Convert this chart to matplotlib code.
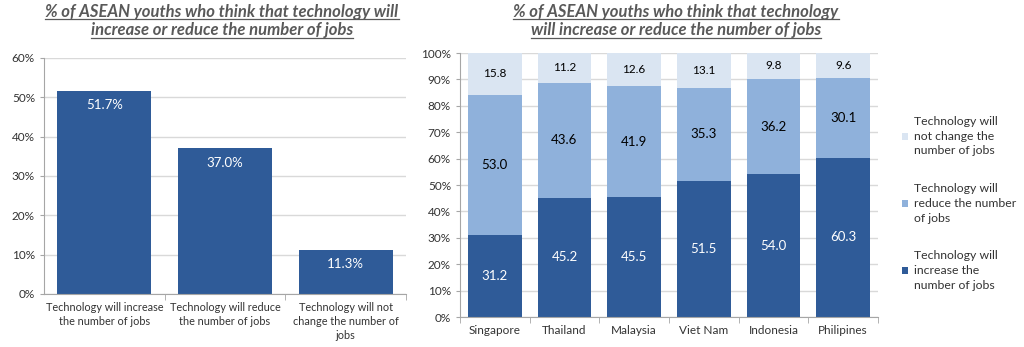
import numpy as np
import matplotlib.pyplot as plt
from matplotlib.lines import Line2D

plt.rcParams['font.family'] = ['Lato', 'DejaVu Sans']

# left chart
left_cats = ["Technology will increase\nthe number of jobs",
             "Technology will reduce\nthe number of jobs",
             "Technology will not\nchange the number of\njobs"]
left_vals = [51.7, 37.0, 11.3]

# right chart
countries = ["Singapore", "Thailand", "Malaysia", "Viet Nam", "Indonesia", "Philipines"]
increase = [31.2, 45.2, 45.5, 51.5, 54.0, 60.3]
reduce_ = [53.0, 43.6, 41.9, 35.3, 36.2, 30.1]
no_change = [15.8, 11.2, 12.6, 13.1, 9.8, 9.6]
legend_labels = ["Technology will\nnot change the\nnumber of jobs",
                 "Technology will\nreduce the number\nof jobs",
                 "Technology will\nincrease the\nnumber of jobs"]

dark = '#2F5B98'
mid = '#8FB1DB'
light = '#DAE5F2'
grid_c = '#D9D9D9'
spine_c = '#A6A6A6'
txt_c = '#333333'

fig = plt.figure(figsize=(10.24, 3.47), dpi=100)
W, H = 1024, 347

def px_axes(x0, y0, x1, y1):
    return fig.add_axes([x0 / W, 1 - y1 / H, (x1 - x0) / W, (y1 - y0) / H])

def style(ax):
    for s in ['top', 'right']:
        ax.spines[s].set_visible(False)
    ax.spines['left'].set_color(spine_c)
    ax.spines['bottom'].set_color(spine_c)
    ax.yaxis.grid(True, color=grid_c, linewidth=1)
    ax.set_axisbelow(True)
    ax.tick_params(axis='y', colors=spine_c, labelcolor=txt_c, labelsize=8.5, length=3)
    ax.tick_params(axis='x', colors=spine_c, labelcolor=txt_c, labelsize=8.5)

# ---- left
ax1 = px_axes(44, 58, 406, 294)
x = np.arange(len(left_vals))
ax1.bar(x, left_vals, width=0.78, color=dark)
for xi, v in zip(x, left_vals):
    ax1.text(xi, v - 2.2, f"{v:.1f}%", ha='center', va='top', color='white', fontsize=9.5)
ax1.set_xlim(-0.5, 2.5)
ax1.set_ylim(0, 60)
ax1.set_yticks(range(0, 61, 10))
ax1.set_yticklabels([f"{t}%" for t in range(0, 61, 10)])
ax1.set_xticks(x)
ax1.set_xticklabels(left_cats, linespacing=1.3)
ax1.set_xticks([0.5, 1.5, 2.5], minor=True)
style(ax1)
ax1.tick_params(axis='x', which='major', length=0, pad=6, labelsize=7.8)
ax1.tick_params(axis='x', which='minor', length=4, color=spine_c)

# ---- right
ax2 = px_axes(460, 53, 878, 317)
x2 = np.arange(len(countries))
inc = np.array(increase)
red = np.array(reduce_)
nc = np.array(no_change)
b3 = ax2.bar(x2, nc, width=0.77, bottom=inc + red, color=light, label=legend_labels[0])
b2 = ax2.bar(x2, red, width=0.77, bottom=inc, color=mid, label=legend_labels[1])
b1 = ax2.bar(x2, inc, width=0.77, color=dark, label=legend_labels[2])
for i in range(len(countries)):
    ax2.text(x2[i], inc[i] / 2, f"{inc[i]:.1f}", ha='center', va='center', color='white', fontsize=9.5)
    ax2.text(x2[i], inc[i] + red[i] / 2, f"{red[i]:.1f}", ha='center', va='center', color='black', fontsize=9.5)
    ax2.text(x2[i], inc[i] + red[i] + nc[i] / 2, f"{nc[i]:.1f}", ha='center', va='center', color='black', fontsize=8.5)
ax2.set_xlim(-0.5, 5.5)
ax2.set_ylim(0, 100)
ax2.set_yticks(range(0, 101, 10))
ax2.set_yticklabels([f"{t}%" for t in range(0, 101, 10)])
ax2.set_xticks(x2)
ax2.set_xticklabels(countries)
ax2.set_xticks(np.arange(-0.5, 6, 1), minor=True)
style(ax2)
ax2.tick_params(axis='x', which='major', length=0, pad=6)
ax2.tick_params(axis='x', which='minor', length=4, color=spine_c)

leg = ax2.legend(handles=[b3, b2, b1], loc='center left', bbox_to_anchor=(1.03, 0.43),
                 frameon=False, fontsize=8.8, handlelength=0.55, handleheight=0.55,
                 handletextpad=0.5, labelspacing=2.2)
for t in leg.get_texts():
    t.set_color(txt_c)
    t.set_linespacing(1.4)

# ---- titles (underlined)
title_c = '#595959'
titles = [
    (222, ["% of ASEAN youths who think that technology will",
           "increase or reduce the number of jobs"]),
    (676, ["% of ASEAN youths who think that technology",
           "will increase or reduce the number of jobs"]),
]
texts = []
for cx, lines in titles:
    for k, line in enumerate(lines):
        t = fig.text(cx / W, 1 - (12 + 18.5 * k) / H, line, ha='center', va='center',
                     fontsize=12, fontweight='bold', fontstyle='italic', color=title_c)
        texts.append(t)

fig.canvas.draw()
r = fig.canvas.get_renderer()
for t in texts:
    bb = t.get_window_extent(r)
    y = (bb.y0 + 1) / H
    fig.add_artist(Line2D([bb.x0 / W, bb.x1 / W], [y, y], color=title_c, linewidth=0.9))

fig.savefig("out.png", dpi=100)
